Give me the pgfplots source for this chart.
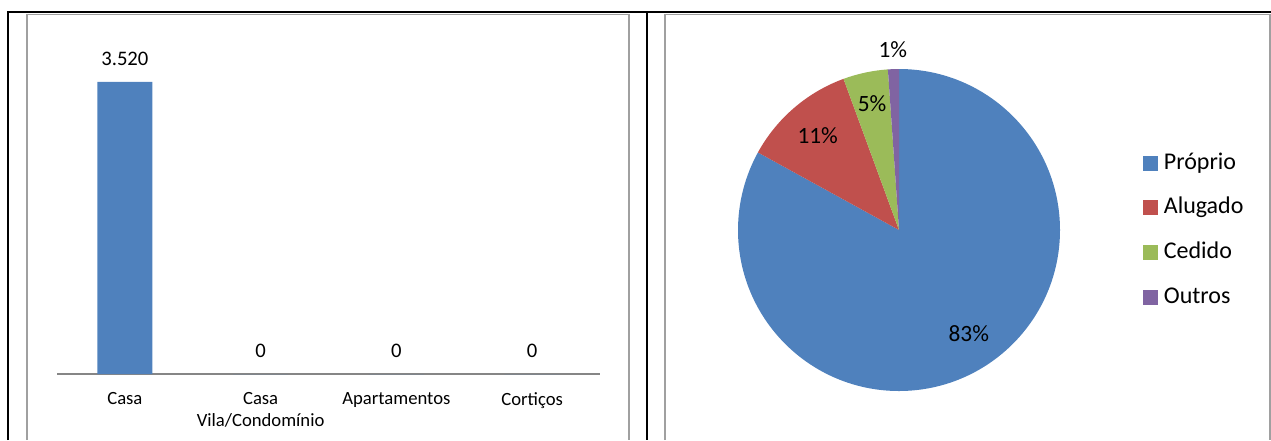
\documentclass[border=0pt]{standalone}
\usepackage{fontspec}
\setmainfont{Carlito}
\usepackage{pgfplots}
\pgfplotsset{compat=1.18}

\definecolor{xblue}{HTML}{4F81BD}
\definecolor{xred}{HTML}{C0504D}
\definecolor{xgreen}{HTML}{9BBB59}
\definecolor{xpurple}{HTML}{8064A2}
\definecolor{framegray}{HTML}{A0A0A0}
\definecolor{axisgray}{HTML}{868686}

% pie shares (percent)
\def\vA{83.0}
\def\vB{11.4}
\def\vC{4.5}
\def\vD{1.1}

\pgfkeys{/pgf/number format/.cd, 1000 sep={.}, assume math mode=true}

\begin{document}
\begin{tikzpicture}[x=0.75pt, y=-0.75pt]
\useasboundingbox (0,0) rectangle (1271,440);

% table frame
\draw[framegray, line width=1.2pt] (27,440) -- (27,14.5) -- (629,14.5) -- (629,440);
\draw[framegray, line width=1.2pt] (665,440) -- (665,14.5) -- (1270,14.5) -- (1270,440);
\draw[black, line width=1.4pt] (8,440) -- (8,12) -- (1271,12);
\draw[black, line width=1.4pt] (647,12) -- (647,440);

\coordinate (barorigin) at (57,374);
\coordinate (piecenter) at (899,230);

% bar chart
\begin{axis}[
    at={(barorigin)}, anchor=south west,
    scale only axis, width=407.25pt, height=249pt,
    xmin=-0.5, xmax=3.5, ymin=0, ymax=4000,
    axis x line*=bottom, axis y line=none,
    axis line style={draw=axisgray, line width=1.1pt, -},
    xtick=data,
    xticklabels={Casa, Casa\\Vila/Condomínio, Apartamentos, Cortiços},
    xticklabel style={align=center, anchor=north, inner sep=0pt, yshift=-13.5pt,
        font=\fontsize{14}{16.5}\selectfont},
    major tick length=0pt,
    ytick=\empty,
    ybar, bar width=41.25pt,
    nodes near coords,
    nodes near coords style={font=\fontsize{15.5}{18}\selectfont, inner sep=0pt,
        anchor=south, yshift=12pt},
  ]
  \addplot[fill=xblue, draw=none] coordinates {(0,3520) (1,0) (2,0) (3,0)};
\end{axis}

% pie chart
\pgfmathsetmacro\aA{90}
\pgfmathsetmacro\aB{\aA-3.6*\vA}
\pgfmathsetmacro\aC{\aB-3.6*\vB}
\pgfmathsetmacro\aD{\aC-3.6*\vC}
\pgfmathsetmacro\aE{\aD-3.6*\vD}
\begin{axis}[
    at={(piecenter)}, anchor=center,
    scale only axis, width=241.5pt, height=241.5pt,
    xmin=-1, xmax=1, ymin=-1, ymax=1,
    hide axis, clip=false,
    legend image code/.code={\fill[#1] (0pt,-5.25pt) rectangle (10.5pt,5.25pt);
        \path (15pt,0pt);},
    legend style={at={(axis description cs:1.258,0.5)}, anchor=west,
        draw=none, fill=none, inner sep=0pt, row sep=16.5pt,
        nodes={inner sep=0pt, text height=13pt, text depth=4pt},
        font=\fontsize{18}{20}\selectfont},
    legend cell align=left,
  ]
  \fill[xblue] (axis cs:0,0) -- (axis cs:{cos(\aA)},{sin(\aA)})
      arc[start angle=\aA, end angle=\aB, radius=120.75pt] -- cycle;
  \fill[xred] (axis cs:0,0) -- (axis cs:{cos(\aB)},{sin(\aB)})
      arc[start angle=\aB, end angle=\aC, radius=120.75pt] -- cycle;
  \fill[xgreen] (axis cs:0,0) -- (axis cs:{cos(\aC)},{sin(\aC)})
      arc[start angle=\aC, end angle=\aD, radius=120.75pt] -- cycle;
  \fill[xpurple] (axis cs:0,0) -- (axis cs:{cos(\aD)},{sin(\aD)})
      arc[start angle=\aD, end angle=\aE, radius=120.75pt] -- cycle;

  \begin{scope}[font=\fontsize{17.5}{20}\selectfont]
  \node at (axis cs:{0.775*cos(-56)},{0.775*sin(-56)}) {83\%};
  \node at (axis cs:{0.775*cos((\aB+\aC)/2)},{0.775*sin((\aB+\aC)/2)}) {11\%};
  \node at (axis cs:{0.80*cos((\aC+\aD)/2)},{0.80*sin((\aC+\aD)/2)}) {5\%};
  \node at (axis cs:{1.12*cos((\aD+\aE)/2)},{1.12*sin((\aD+\aE)/2)}) {1\%};
  \end{scope}

  \addlegendimage{xblue}\addlegendentry{Próprio}
  \addlegendimage{xred}\addlegendentry{Alugado}
  \addlegendimage{xgreen}\addlegendentry{Cedido}
  \addlegendimage{xpurple}\addlegendentry{Outros}
\end{axis}
\end{tikzpicture}
\end{document}
